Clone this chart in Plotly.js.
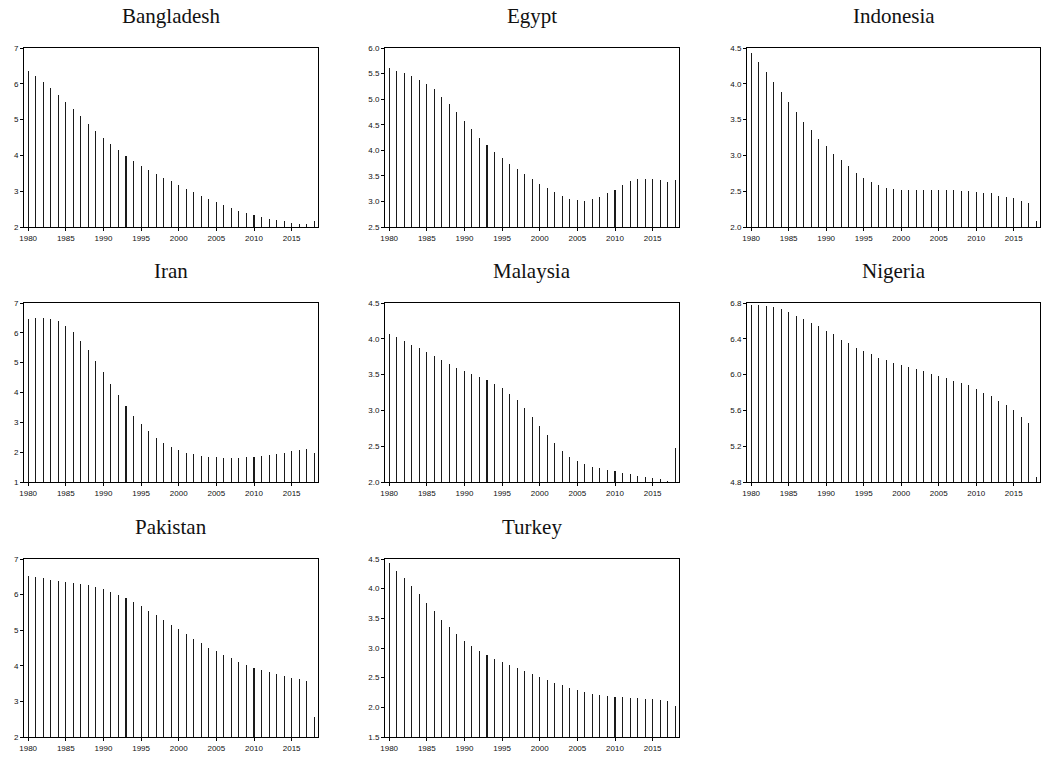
<!DOCTYPE html>
<html>
<head>
<meta charset="utf-8">
<script src="https://cdn.plot.ly/plotly-3.0.1.min.js"></script>
<style>html,body{margin:0;padding:0;background:#fff;}#chart{width:1041px;height:760px;}</style>
</head>
<body>
<div id="chart"></div>
<script>
const years = [1980,1981,1982,1983,1984,1985,1986,1987,1988,1989,1990,1991,1992,1993,1994,1995,1996,1997,1998,1999,2000,2001,2002,2003,2004,2005,2006,2007,2008,2009,2010,2011,2012,2013,2014,2015,2016,2017,2018];

const countries = ["Bangladesh","Egypt","Indonesia","Iran","Malaysia","Nigeria","Pakistan","Turkey"];

const bangladesh = [6.35,6.21,6.05,5.88,5.69,5.49,5.30,5.09,4.89,4.69,4.50,4.32,4.14,3.99,3.85,3.71,3.59,3.48,3.38,3.28,3.16,3.07,2.98,2.88,2.78,2.70,2.61,2.52,2.46,2.39,2.33,2.28,2.23,2.20,2.16,2.12,2.09,2.07,2.17];
const egypt = [5.61,5.56,5.51,5.45,5.38,5.29,5.19,5.05,4.90,4.75,4.58,4.42,4.25,4.10,3.97,3.85,3.74,3.63,3.54,3.44,3.35,3.26,3.18,3.11,3.05,3.02,3.01,3.04,3.09,3.16,3.23,3.32,3.39,3.43,3.44,3.44,3.41,3.38,3.42];
const indonesia = [4.43,4.30,4.17,4.03,3.89,3.75,3.61,3.47,3.35,3.23,3.13,3.02,2.93,2.85,2.76,2.69,2.63,2.59,2.55,2.53,2.52,2.51,2.51,2.52,2.52,2.52,2.52,2.51,2.50,2.50,2.49,2.48,2.47,2.44,2.42,2.40,2.37,2.34,2.09];
const iran = [6.47,6.51,6.51,6.47,6.39,6.24,6.02,5.74,5.42,5.07,4.69,4.30,3.92,3.56,3.22,2.94,2.70,2.49,2.32,2.18,2.07,1.98,1.93,1.88,1.85,1.83,1.82,1.82,1.82,1.83,1.85,1.88,1.90,1.94,1.98,2.05,2.08,2.12,1.96];
const malaysia = [4.07,4.02,3.97,3.92,3.87,3.81,3.76,3.70,3.65,3.59,3.55,3.51,3.46,3.42,3.37,3.31,3.23,3.15,3.03,2.91,2.78,2.66,2.54,2.44,2.35,2.29,2.25,2.21,2.19,2.17,2.15,2.13,2.11,2.09,2.07,2.05,2.04,2.02,2.48];
const nigeria = [6.78,6.78,6.77,6.75,6.73,6.70,6.66,6.62,6.58,6.54,6.49,6.45,6.39,6.35,6.30,6.26,6.23,6.19,6.16,6.13,6.11,6.08,6.06,6.04,6.01,5.99,5.96,5.93,5.91,5.88,5.84,5.80,5.76,5.71,5.66,5.60,5.53,5.46,4.86];
const pakistan = [6.52,6.49,6.46,6.42,6.39,6.36,6.32,6.29,6.26,6.21,6.15,6.07,5.99,5.90,5.78,5.67,5.55,5.42,5.29,5.15,5.02,4.89,4.76,4.64,4.51,4.41,4.30,4.21,4.12,4.02,3.95,3.87,3.82,3.76,3.72,3.67,3.62,3.57,2.57];
const turkey = [4.43,4.30,4.18,4.04,3.91,3.76,3.62,3.48,3.35,3.23,3.12,3.03,2.95,2.88,2.82,2.77,2.71,2.67,2.62,2.57,2.51,2.46,2.41,2.37,2.33,2.29,2.26,2.23,2.21,2.19,2.18,2.17,2.15,2.15,2.14,2.14,2.13,2.11,2.02];

const seriesValues = [bangladesh, egypt, indonesia, iran, malaysia, nigeria, pakistan, turkey];

// y-axis ranges and tick steps (axis settings)
const yRanges = [[2,7],[2.5,6.0],[2.0,4.5],[1,7],[2.0,4.5],[4.8,6.8],[2,7],[1.5,4.5]];
const yDticks = [1,0.5,0.5,1,0.5,0.4,1,0.5];
const yFormats = ["d",".1f",".1f","d",".1f",".1f","d",".1f"];

// layout geometry in pixels
const W = 1041, H = 760;
const colPx = [[24,318],[385,679],[747,1040]];
const rowPx = [[48,227],[303,482],[559,737]];

const traces = [];
const layout = {
  width: W, height: H,
  margin: {l:0,r:0,t:0,b:0},
  paper_bgcolor: "#fff", plot_bgcolor: "#fff",
  showlegend: false,
  bargap: 0,
  annotations: []
};

const tickFont = {family: "Liberation Sans, Arial, sans-serif", size: 8, color: "#111"};

countries.forEach((name, i) => {
  const r = Math.floor(i/3), c = i%3;
  const n = i+1;
  const xa = "x" + (n===1 ? "" : n), ya = "y" + (n===1 ? "" : n);
  const xk = "xaxis" + (n===1 ? "" : n), yk = "yaxis" + (n===1 ? "" : n);
  traces.push({
    type: "bar",
    x: years,
    y: seriesValues[i],
    width: 0.14,
    marker: {color: "#1a1a1a", line: {width: 0}},
    xaxis: xa, yaxis: ya,
    hoverinfo: "x+y"
  });
  const xd = [colPx[c][0]/W, colPx[c][1]/W];
  const yd = [1 - rowPx[r][1]/H, 1 - rowPx[r][0]/H];
  layout[xk] = {
    domain: xd, anchor: ya,
    range: [1979.45, 2018.5],
    tickmode: "linear", tick0: 1980, dtick: 5,
    ticks: "outside", ticklen: 3, tickwidth: 1, tickcolor: "#000",
    showline: true, linecolor: "#000", linewidth: 1, mirror: true,
    showgrid: false, zeroline: false,
    tickfont: tickFont, tickformat: "d"
  };
  layout[yk] = {
    domain: yd, anchor: xa,
    range: yRanges[i],
    tickmode: "linear", tick0: yRanges[i][0], dtick: yDticks[i],
    tickformat: yFormats[i],
    ticks: "outside", ticklen: 3, tickwidth: 1, tickcolor: "#000",
    showline: true, linecolor: "#000", linewidth: 1, mirror: true,
    showgrid: false, zeroline: false,
    tickfont: tickFont
  };
  layout.annotations.push({
    text: name,
    xref: "paper", yref: "paper",
    x: (xd[0]+xd[1])/2, y: 1 - (rowPx[r][0]-18)/H,
    xanchor: "center", yanchor: "bottom",
    showarrow: false,
    font: {family: "Liberation Serif, Times New Roman, serif", size: 21, color: "#111"}
  });
});

Plotly.newPlot("chart", traces, layout, {displayModeBar: false, staticPlot: true});
</script>
</body>
</html>
